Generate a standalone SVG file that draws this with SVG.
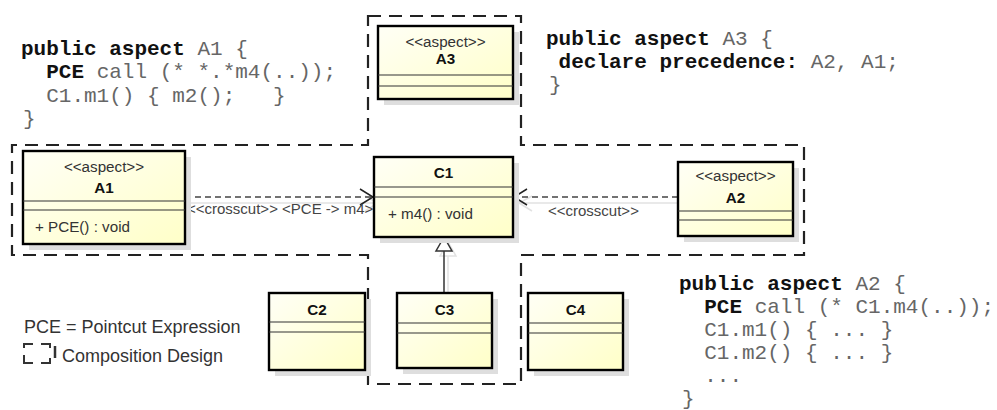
<svg xmlns="http://www.w3.org/2000/svg" width="997" height="410" viewBox="0 0 997 410">
<defs>
<linearGradient id="boxfill" x1="0" y1="0" x2="1" y2="1">
<stop offset="0" stop-color="#FFFFF6"/>
<stop offset="1" stop-color="#FFFFC8"/>
</linearGradient>
<style>
.shadow{fill:#dedede;stroke:none}
.box{fill:url(#boxfill);stroke:#000;stroke-width:2.4}
.sep{stroke:#333;stroke-width:1.2}
.st{font-family:"Liberation Sans",Arial,sans-serif;font-size:15.2px;fill:#333;text-anchor:middle}
.nm{font-family:"Liberation Sans",Arial,sans-serif;font-size:15.2px;font-weight:bold;fill:#111;text-anchor:middle}
.mb{font-family:"Liberation Sans",Arial,sans-serif;font-size:15.2px;fill:#333}
.lbl{font-family:"Liberation Sans",Arial,sans-serif;font-size:15px;fill:#444}
.legend{font-family:"Liberation Sans",Arial,sans-serif;font-size:18px;fill:#333}
.code{font-family:"Liberation Mono","Courier New",monospace;font-size:21px;fill:#666}
.kw{font-weight:bold;fill:#111}
.bound{fill:none;stroke:#222;stroke-width:2.2;stroke-dasharray:13,8}
.dep{fill:none;stroke:#444;stroke-width:1.5;stroke-dasharray:6,4}
.head{fill:none;stroke:#222;stroke-width:1.5}
.cshadow{fill:none;stroke:#e2e2e2;stroke-width:1.5}
</style>
</defs>
<rect width="997" height="410" fill="#fff"/>

<g id="boundary">
<path class="bound" d="M368,16 H521 V145 H804 V255 H521 V384 H368 V255 H12 V145 H368 Z"/>
</g>

<g id="code-A1">
<text class="code" x="21" y="55" xml:space="preserve"><tspan class="kw">public aspect</tspan> A1 {</text>
<text class="code" x="21" y="78" xml:space="preserve">  <tspan class="kw">PCE</tspan> call (* *.*m4(..));</text>
<text class="code" x="21" y="102" xml:space="preserve">  C1.m1() { m2();   }</text>
<text class="code" x="23" y="125" xml:space="preserve">}</text>
</g>

<g id="code-A3">
<text class="code" x="546" y="45" xml:space="preserve"><tspan class="kw">public aspect</tspan> A3 {</text>
<text class="code" x="546" y="68" xml:space="preserve"> <tspan class="kw">declare precedence:</tspan> A2, A1;</text>
<text class="code" x="549" y="91" xml:space="preserve">}</text>
</g>

<g id="code-A2">
<text class="code" x="679" y="290" xml:space="preserve"><tspan class="kw">public aspect</tspan> A2 {</text>
<text class="code" x="679" y="313" xml:space="preserve">  <tspan class="kw">PCE</tspan> call (* C1.m4(..));</text>
<text class="code" x="679" y="336" xml:space="preserve">  C1.m1() { ... }</text>
<text class="code" x="679" y="359" xml:space="preserve">  C1.m2() { ... }</text>
<text class="code" x="679" y="382" xml:space="preserve">  ...</text>
<text class="code" x="682" y="405" xml:space="preserve">}</text>
</g>

<g id="legend">
<text class="legend" x="24" y="333">PCE = Pointcut Expression</text>
<path d="M24,348 V344 H33 M41,344 H50 V348 M24,355 V363 H33 M41,363 H50 V358" fill="none" stroke="#333" stroke-width="2"/>
<path d="M55,346 V358" fill="none" stroke="#333" stroke-width="2.5"/>
<text class="legend" x="62" y="362">Composition Design</text>
</g>

<g id="connectors">
<path class="cshadow" d="M190,203 H378 M365,196 L378,203 L365,211"/>
<path class="cshadow" d="M683,203 H519 M532,196 L519,203 L532,211"/>
<path class="cshadow" d="M448,299 V256 M448,242 L440,256 L456,256 Z"/>
<path class="dep" d="M185,197 H373"/>
<path class="head" d="M360,189 L373,197 L360,205"/>
<text class="lbl" x="187" y="214">&lt;&lt;crosscut&gt;&gt; &lt;PCE -&gt; m4&gt;</text>
<path class="dep" d="M678,197 H514"/>
<path class="head" d="M527,189 L514,197 L527,205"/>
<text class="lbl" x="548" y="216">&lt;&lt;crosscut&gt;&gt;</text>
<path d="M444,293 V251" fill="none" stroke="#333" stroke-width="1.5"/>
<path d="M444,237 L436,251 L452,251 Z" fill="#fff" stroke="#333" stroke-width="1.5"/>
</g>

<g id="A3">
<rect class="shadow" x="384" y="32" width="135" height="73"/>
<rect class="box" x="378" y="26" width="135" height="73"/>
<line class="sep" x1="378" y1="75" x2="513" y2="75"/>
<line class="sep" x1="378" y1="86" x2="513" y2="86"/>
<text class="st" x="445.5" y="47">&lt;&lt;aspect&gt;&gt;</text>
<text class="nm" x="445.5" y="64">A3</text>
</g>

<g id="A1">
<rect class="shadow" x="29" y="157" width="162" height="93"/>
<rect class="box" x="23" y="151" width="162" height="93"/>
<line class="sep" x1="23" y1="201" x2="185" y2="201"/>
<line class="sep" x1="23" y1="210" x2="185" y2="210"/>
<text class="st" x="104" y="172">&lt;&lt;aspect&gt;&gt;</text>
<text class="nm" x="104" y="193">A1</text>
<text class="mb" x="35" y="232">+ PCE() : void</text>
</g>

<g id="C1">
<rect class="shadow" x="380" y="163" width="139" height="80"/>
<rect class="box" x="374" y="157" width="139" height="80"/>
<line class="sep" x1="374" y1="187" x2="513" y2="187"/>
<line class="sep" x1="374" y1="197" x2="513" y2="197"/>
<text class="nm" x="443.5" y="178">C1</text>
<text class="mb" x="388" y="219">+ m4() : void</text>
</g>

<g id="A2">
<rect class="shadow" x="684" y="168" width="115" height="74"/>
<rect class="box" x="678" y="162" width="115" height="74"/>
<line class="sep" x1="678" y1="211" x2="793" y2="211"/>
<line class="sep" x1="678" y1="220" x2="793" y2="220"/>
<text class="st" x="735.5" y="181">&lt;&lt;aspect&gt;&gt;</text>
<text class="nm" x="735.5" y="203">A2</text>
</g>

<g id="C2">
<rect class="shadow" x="275" y="299" width="96" height="77"/>
<rect class="box" x="269" y="293" width="96" height="77"/>
<line class="sep" x1="269" y1="322" x2="365" y2="322"/>
<line class="sep" x1="269" y1="332" x2="365" y2="332"/>
<text class="nm" x="317" y="315">C2</text>
</g>

<g id="C3">
<rect class="shadow" x="403" y="299" width="95" height="75"/>
<rect class="box" x="397" y="293" width="95" height="75"/>
<line class="sep" x1="397" y1="323" x2="492" y2="323"/>
<line class="sep" x1="397" y1="333" x2="492" y2="333"/>
<text class="nm" x="444.5" y="315">C3</text>
</g>

<g id="C4">
<rect class="shadow" x="534" y="299" width="95" height="77"/>
<rect class="box" x="528" y="293" width="95" height="77"/>
<line class="sep" x1="528" y1="323" x2="623" y2="323"/>
<line class="sep" x1="528" y1="333" x2="623" y2="333"/>
<text class="nm" x="575.5" y="315">C4</text>
</g>
</svg>
